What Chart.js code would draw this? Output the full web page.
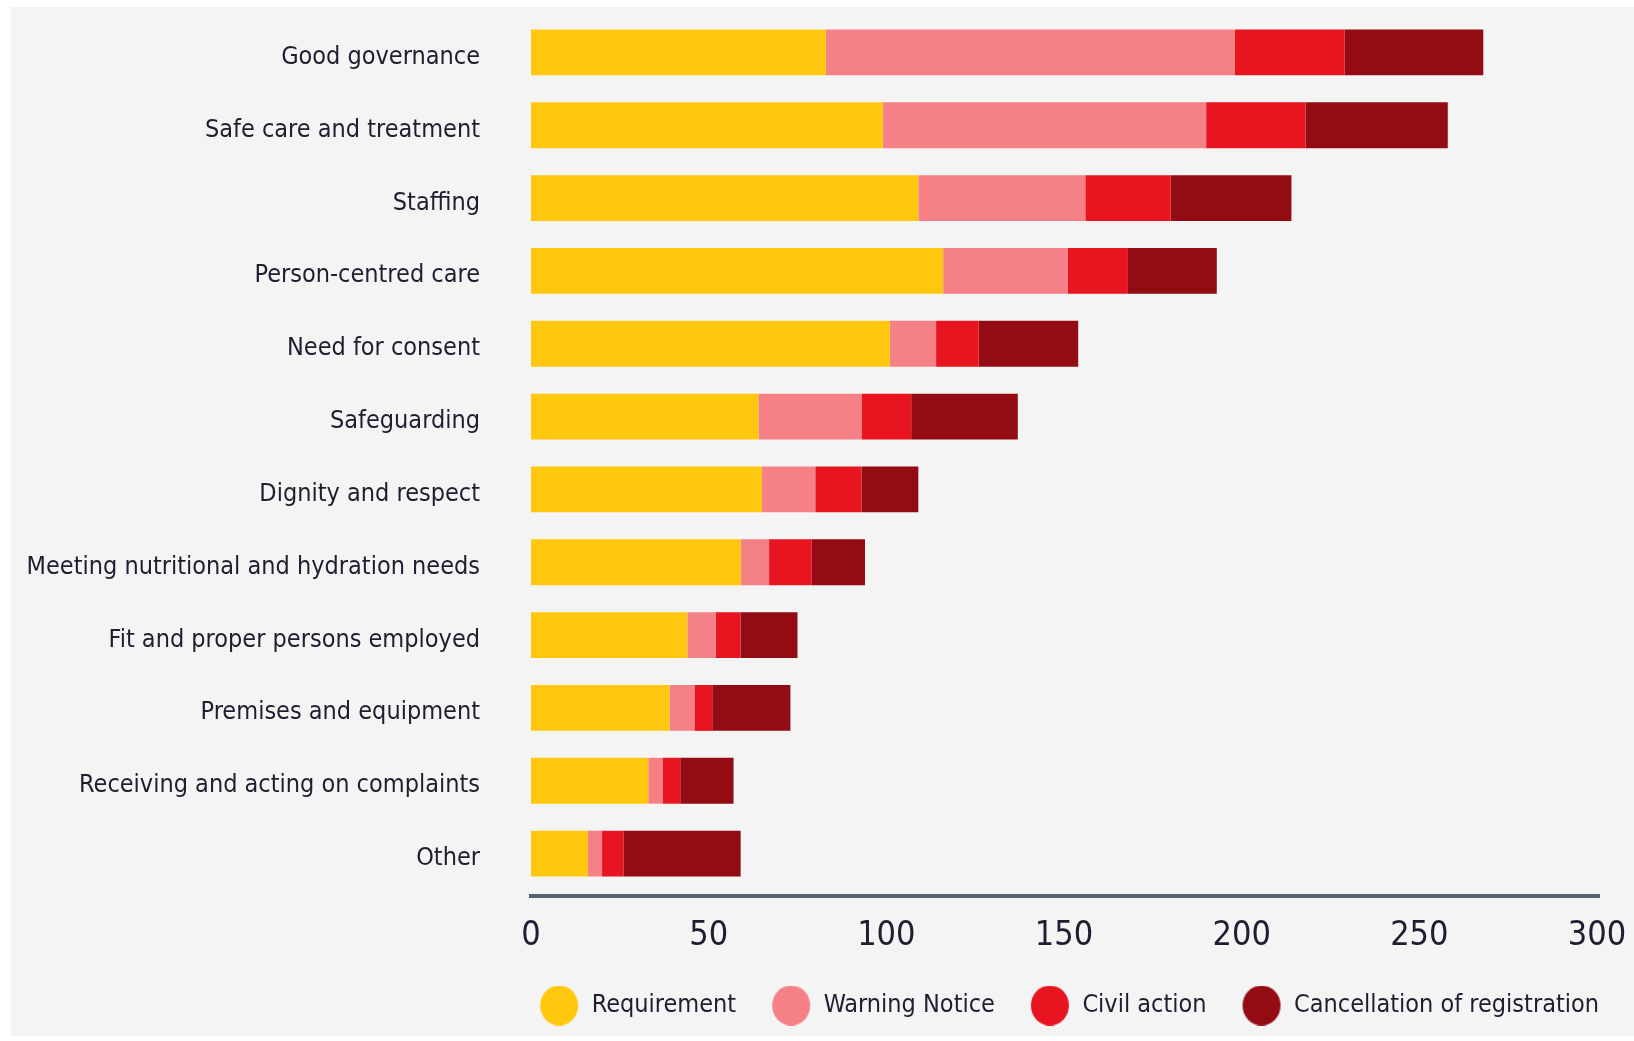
<!DOCTYPE html>
<html>
<head>
<meta charset="utf-8">
<script src="https://cdn.jsdelivr.net/npm/chart.js@4"></script>
<style>
  body { margin: 0; background: #ffffff; }
  .panel { position: absolute; left: 11px; top: 7px; width: 1623px; height: 1029px; background: #f4f4f4; }
  #myChart { position: absolute; left: 0; top: 0; }
</style>
</head>
<body>
<div class="panel"></div>
<canvas id="myChart" width="1634" height="1041"></canvas>
<script>
const categories = [
  "Good governance",
  "Safe care and treatment",
  "Staffing",
  "Person-centred care",
  "Need for consent",
  "Safeguarding",
  "Dignity and respect",
  "Meeting nutritional and hydration needs",
  "Fit and proper persons employed",
  "Premises and equipment",
  "Receiving and acting on complaints",
  "Other",
];

const requirement = [83, 99, 109, 116, 101, 64, 65, 59, 44, 39, 33, 16];
const warningNotice = [115, 91, 47, 35, 13, 29, 15, 8, 8, 7, 4, 4];
const civilAction = [31, 28, 24, 17, 12, 14, 13, 12, 7, 5, 5, 6];
const cancellation = [39, 40, 34, 25, 28, 30, 16, 15, 16, 22, 15, 33];

const xTicks = [0, 50, 100, 150, 200, 250, 300];

const textColor = "#1e1e30";
Chart.defaults.font.family = '"DejaVu Sans Condensed", "DejaVu Sans", sans-serif';

// the axis line sits a little below the last bar, not on the chart area edge
const axisLine = {
  id: "axisLine",
  afterDraw: (chart) => {
    const { ctx, chartArea } = chart;
    ctx.save();
    ctx.strokeStyle = "#56626e";
    ctx.lineWidth = 4;
    ctx.beginPath();
    ctx.moveTo(chartArea.left - 2, chartArea.bottom + 6);
    ctx.lineTo(chartArea.right + 3, chartArea.bottom + 6);
    ctx.stroke();
    ctx.restore();
  },
};

// legend dots are bigger than the legend text, so draw them as small images
const dot = (color) => {
  const c = document.createElement("canvas");
  c.width = 40;
  c.height = 40;
  const g = c.getContext("2d");
  g.fillStyle = color;
  g.beginPath();
  g.ellipse(20, 20, 19, 20, 0, 0, Math.PI * 2);
  g.fill();
  return c;
};

const makeSet = (label, data, color) => {
  return {
    label: label,
    data: data,
    backgroundColor: color,
    borderWidth: 0,
    barPercentage: 0.63,
    categoryPercentage: 1,
  };
};

const ctx = document.getElementById("myChart").getContext("2d");

const chart = new Chart(ctx, {
  type: "bar",
  data: {
    labels: categories,
    datasets: [
      makeSet("Requirement", requirement, "#ffc80f"),
      makeSet("Warning Notice", warningNotice, "#f58086"),
      makeSet("Civil action", civilAction, "#e8141f"),
      makeSet("Cancellation of registration", cancellation, "#930b13"),
    ],
  },
  options: {
    indexAxis: "y",
    responsive: false,
    animation: false,
    layout: { padding: { top: 16, right: 0, bottom: 13, left: 0 } },
    scales: {
      x: {
        stacked: true,
        min: 0,
        max: 300,
        grid: { display: false, drawTicks: false },
        border: { display: false },
        afterBuildTicks: (axis) => {
          axis.ticks = xTicks.map((v) => ({ value: v }));
        },
        afterFit: (axis) => {
          axis.height = 68;
          axis.paddingRight = 37;
        },
        ticks: {
          padding: 26,
          color: textColor,
          font: { size: 34 },
        },
      },
      y: {
        stacked: true,
        grid: { display: false, drawTicks: true, tickLength: 51 },
        border: { display: false },
        afterFit: (axis) => {
          axis.width = 531;
        },
        ticks: {
          padding: 0,
          labelOffset: 5,
          color: textColor,
          font: { size: 25 },
        },
      },
    },
    plugins: {
      tooltip: { enabled: false },
      legend: {
        position: "bottom",
        align: "end",
        labels: {
          usePointStyle: true,
          pointStyleWidth: 40,
          padding: 35,
          color: textColor,
          font: { size: 25 },
          generateLabels: (chart) => {
            const items = Chart.defaults.plugins.legend.labels.generateLabels(chart);
            items.forEach((item) => {
              item.pointStyle = dot(item.fillStyle);
            });
            return items;
          },
        },
      },
    },
  },
  plugins: [axisLine],
});
</script>
</body>
</html>
